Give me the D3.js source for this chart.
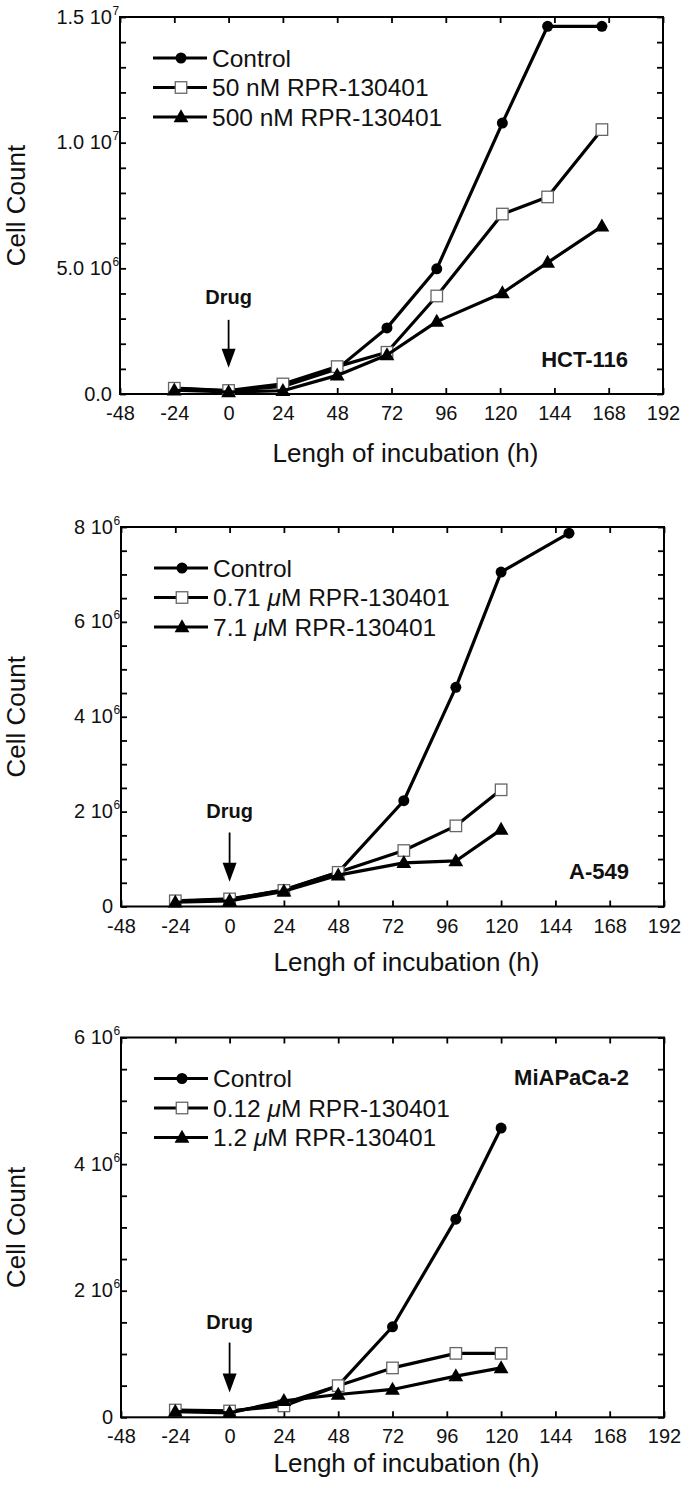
<!DOCTYPE html>
<html>
<head>
<meta charset="utf-8">
<script src="https://cdn.jsdelivr.net/npm/d3@7"></script>
<style>
  html, body { margin: 0; padding: 0; background: #fff; }
  svg text { font-family: "Liberation Sans", Arial, Helvetica, sans-serif; fill: #111; }
</style>
</head>
<body>
<svg id="chart" width="685" height="1489"></svg>
<script>
// ---------------- DATA ----------------
const xTickValues = [-48, -24, 0, 24, 48, 72, 96, 120, 144, 168, 192];
const xTickLabels = ["-48", "-24", "0", "24", "48", "72", "96", "120", "144", "168", "192"];

// Panel 1: HCT-116 (cell counts in units of 10^6)
const hctTimes = [-24, 0, 24, 48, 70, 92, 121, 141, 165];
const hctControl = [0.22, 0.13, 0.30, 1.00, 2.63, 4.98, 10.78, 14.63, 14.63];
const hct50nM = [0.23, 0.14, 0.40, 1.09, 1.66, 3.90, 7.16, 7.84, 10.52];
const hct500nM = [0.15, 0.08, 0.13, 0.74, 1.55, 2.88, 4.02, 5.23, 6.67];
const hctLegend = ["Control", "50 nM RPR-130401", "500 nM RPR-130401"];
const hctYMajor = [0, 5, 10, 15];
const hctYLabels = [["0.0", ""], ["5.0 10", "6"], ["1.0 10", "7"], ["1.5 10", "7"]];

// Panel 2: A-549
const a549TimesControl = [-24, 0, 24, 48, 77, 100, 120, 150];
const a549TimesDrug = [-24, 0, 24, 48, 77, 100, 120];
const a549Control = [0.11, 0.15, 0.35, 0.72, 2.23, 4.62, 7.05, 7.87];
const a549Low = [0.12, 0.16, 0.34, 0.72, 1.18, 1.70, 2.46];
const a549High = [0.09, 0.12, 0.32, 0.66, 0.92, 0.96, 1.62];
const a549Legend = ["Control", "0.71 μM RPR-130401", "7.1 μM RPR-130401"];
const a549YMajor = [0, 2, 4, 6, 8];
const a549YLabels = [["0", ""], ["2 10", "6"], ["4 10", "6"], ["6 10", "6"], ["8 10", "6"]];

// Panel 3: MiAPaCa-2
const miaTimes = [-24, 0, 24, 48, 72, 100, 120];
const miaControl = [0.11, 0.09, 0.22, 0.50, 1.43, 3.13, 4.57];
const miaLow = [0.115, 0.10, 0.18, 0.50, 0.78, 1.01, 1.01];
const miaHigh = [0.09, 0.07, 0.26, 0.36, 0.44, 0.65, 0.78];
const miaLegend = ["Control", "0.12 μM RPR-130401", "1.2 μM RPR-130401"];
const miaYMajor = [0, 2, 4, 6];
const miaYLabels = [["0", ""], ["2 10", "6"], ["4 10", "6"], ["6 10", "6"]];

const cellLines = ["HCT-116", "A-549", "MiAPaCa-2"];
const drugLabel = "Drug";
const xTitle = "Lengh of incubation (h)";
const yTitle = "Cell Count";

// ---------------- LAYOUT ----------------
const panels = [
  { top: 17, bottom: 394, left: 120, right: 663, yMax: 15, minorStep: 1,
    yMajor: hctYMajor, yLabels: hctYLabels, legend: hctLegend,
    series: [[hctTimes, hctControl], [hctTimes, hct50nM], [hctTimes, hct500nM]],
    drug: [3.59, 2.95, 1.04], cell: cellLines[0], cellBase: -26.7, cellFromTop: false, titleOff: 68 },
  { top: 527, bottom: 906.5, left: 121, right: 664, yMax: 8, minorStep: 0.5,
    yMajor: a549YMajor, yLabels: a549YLabels, legend: a549Legend,
    series: [[a549TimesControl, a549Control], [a549TimesDrug, a549Low], [a549TimesDrug, a549High]],
    drug: [1.87, 1.56, 0.52], cell: cellLines[1], cellBase: -27.2, cellFromTop: false, titleOff: 64 },
  { top: 1037.5, bottom: 1417.3, left: 121, right: 664, yMax: 6, minorStep: 0.5,
    yMajor: miaYMajor, yLabels: miaYLabels, legend: miaLegend,
    series: [[miaTimes, miaControl], [miaTimes, miaLow], [miaTimes, miaHigh]],
    drug: [1.39, 1.18, 0.39], cell: cellLines[2], cellBase: 47.5, cellFromTop: true, titleOff: 55 }
];

const svg = d3.select("#chart");
const markerTypes = ["circle", "square", "triangle"];

function drawMarker(g, type, x, y) {
  if (type === "circle") {
    g.append("circle").attr("cx", x).attr("cy", y).attr("r", 5.5).attr("fill", "#000");
  } else if (type === "square") {
    g.append("rect").attr("x", x - 5.75).attr("y", y - 5.75).attr("width", 11.5).attr("height", 11.5)
      .attr("fill", "#fff").attr("stroke", "#666").attr("stroke-width", 1.3);
  } else {
    g.append("path").attr("d", `M${x},${y - 7.8}L${x + 7.4},${y + 5.2}L${x - 7.4},${y + 5.2}Z`).attr("fill", "#000");
  }
}

panels.forEach((p, pi) => {
  const x = d3.scaleLinear().domain([-48, 192]).range([p.left, p.right]);
  const y = d3.scaleLinear().domain([0, p.yMax]).range([p.bottom, p.top]);
  const g = svg.append("g");
  const minor = d3.range(0, p.yMax + 1e-9, p.minorStep);

  // Axes (ticks pointing inward)
  const styleAxis = sel => {
    sel.select(".domain").remove();
    sel.selectAll(".tick line").attr("stroke", "#000").attr("stroke-width", 1.8);
  };
  g.append("g").attr("transform", `translate(0,${p.bottom})`)
    .call(d3.axisBottom(x).tickValues(xTickValues).tickSizeInner(-6).tickSizeOuter(0).tickPadding(12)
      .tickFormat((d, i) => xTickLabels[i]))
    .call(styleAxis)
    .call(s => s.selectAll("text").attr("font-size", 20).attr("fill", "#111"));
  g.append("g").attr("transform", `translate(0,${p.top})`)
    .call(d3.axisTop(x).tickValues(xTickValues).tickSizeInner(-6).tickSizeOuter(0).tickFormat(""))
    .call(styleAxis);
  g.append("g").attr("transform", `translate(${p.left},0)`)
    .call(d3.axisLeft(y).tickValues(minor).tickSizeInner(-6).tickSizeOuter(0).tickFormat(""))
    .call(styleAxis);
  g.append("g").attr("transform", `translate(${p.right},0)`)
    .call(d3.axisRight(y).tickValues(minor).tickSizeInner(-6).tickSizeOuter(0).tickFormat(""))
    .call(styleAxis);
  // Y labels with superscript exponent
  const yl = g.append("g").attr("transform", `translate(${p.left},0)`)
    .call(d3.axisLeft(y).tickValues(p.yMajor).tickSize(0).tickPadding(8)
      .tickFormat((d, i) => p.yLabels[i][0]))
    .call(s => s.select(".domain").remove());
  yl.selectAll(".tick text").attr("font-size", 20).attr("fill", "#111").attr("dy", "0.3em");
  yl.selectAll(".tick").each(function(d, i) {
    const exp = p.yLabels[i][1];
    if (exp) {
      d3.select(this).append("text").attr("x", -7.5).attr("y", -3).attr("font-size", 12)
        .attr("text-anchor", "start").attr("fill", "#111").text(exp);
    }
  });

  // Frame
  g.append("rect").attr("x", p.left).attr("y", p.top)
    .attr("width", p.right - p.left).attr("height", p.bottom - p.top)
    .attr("fill", "none").attr("stroke", "#000").attr("stroke-width", 2);

  // Axis titles
  g.append("text").attr("x", (p.left + p.right) / 2 + 14).attr("y", p.bottom + p.titleOff)
    .attr("text-anchor", "middle").attr("font-size", 26).text(xTitle);
  g.append("text").attr("transform", `translate(25,${(p.top + p.bottom) / 2}) rotate(-90)`)
    .attr("text-anchor", "middle").attr("font-size", 26).text(yTitle);

  // Series
  const line = d3.line().x(d => x(d[0])).y(d => y(d[1]));
  p.series.forEach((s, si) => {
    const pts = s[0].map((t, k) => [t, s[1][k]]);
    const sg = g.append("g");
    sg.append("path").attr("d", line(pts)).attr("fill", "none").attr("stroke", "#000")
      .attr("stroke-width", 3.2).attr("stroke-linejoin", "round");
    pts.forEach(d => drawMarker(sg, markerTypes[si], x(d[0]), y(d[1])));
  });

  // Legend
  p.legend.forEach((lab, li) => {
    const ly = p.top + 41 + li * 29.5;
    const lg = g.append("g");
    lg.append("line").attr("x1", p.left + 33).attr("x2", p.left + 87).attr("y1", ly).attr("y2", ly)
      .attr("stroke", "#000").attr("stroke-width", 3.2);
    drawMarker(lg, markerTypes[li], p.left + 61, ly);
    const t = lg.append("text").attr("x", p.left + 92).attr("y", ly).attr("dy", "0.36em").attr("font-size", 24.5);
    const parts = lab.split("μ");
    t.append("tspan").text(parts[0]);
    if (parts.length > 1) {
      t.append("tspan").attr("font-style", "italic").text("μ");
      t.append("tspan").text(parts[1]);
    }
  });

  // Drug annotation
  const ax = x(0);
  g.append("text").attr("x", ax).attr("y", y(p.drug[0])).attr("text-anchor", "middle")
    .attr("font-size", 20).attr("font-weight", "bold").text(drugLabel);
  const tipY = y(p.drug[2]);
  g.append("line").attr("x1", ax).attr("x2", ax).attr("y1", y(p.drug[1])).attr("y2", tipY - 17)
    .attr("stroke", "#000").attr("stroke-width", 1.8);
  g.append("path").attr("d", `M${ax - 7},${tipY - 19}L${ax + 7},${tipY - 19}L${ax},${tipY}Z`).attr("fill", "#000");

  // Cell line label
  g.append("text").attr("x", p.right - 35)
    .attr("y", p.cellFromTop ? p.top + p.cellBase : p.bottom + p.cellBase)
    .attr("text-anchor", "end").attr("font-size", 22).attr("font-weight", "bold").text(p.cell);
});
</script>
</body>
</html>
